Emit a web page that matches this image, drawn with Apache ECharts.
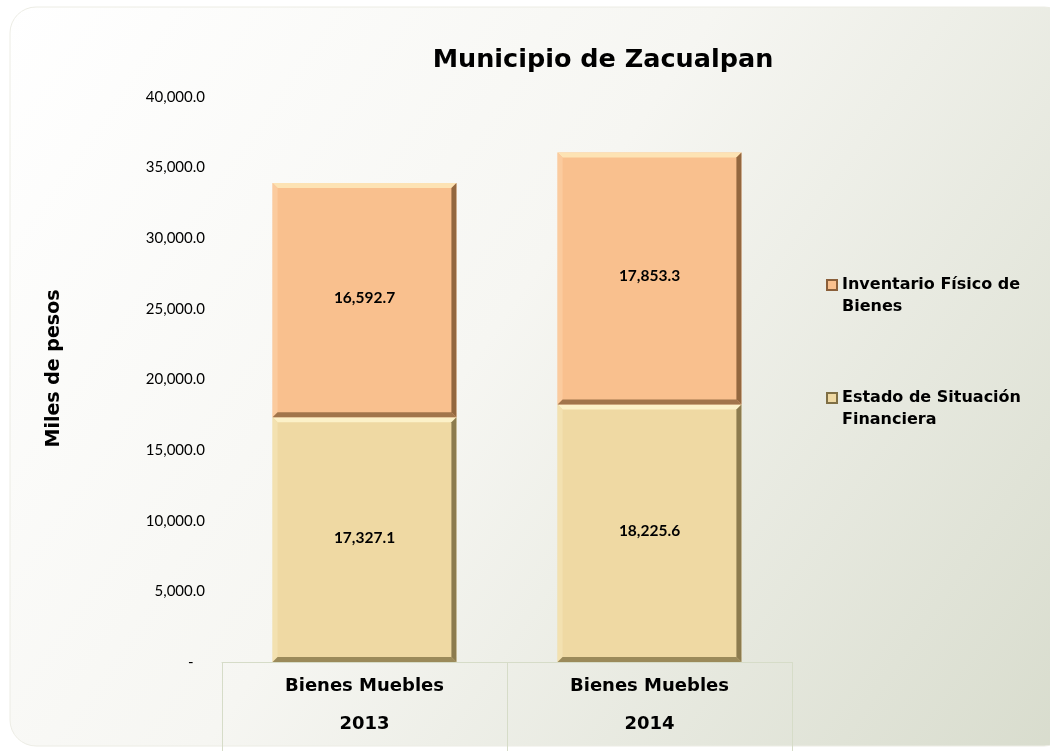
<!DOCTYPE html>
<html>
<head>
<meta charset="utf-8">
<title>Municipio de Zacualpan</title>
<script src="https://cdn.jsdelivr.net/npm/echarts@6/dist/echarts.min.js"></script>
<style>
  html, body { margin: 0; padding: 0; background: #fff; }
  #chart { width: 1050px; height: 751px; }
</style>
</head>
<body>
<div id="chart"></div>
<script>
// datos
var years = ['2013', '2014']
var categoryName = 'Bienes Muebles'
var estadoValues = [17327.1, 18225.6] // Estado de Situación Financiera
var inventarioValues = [16592.7, 17853.3] // Inventario Físico de Bienes
var yTicks = [0, 5000, 10000, 15000, 20000, 25000, 30000, 35000, 40000]

var seriesNames = ['Estado de Situación Financiera', 'Inventario Físico de Bienes']
// la primera línea vacía deja el icono a la altura de la primera línea del texto
var legendLines = {
  'Estado de Situación Financiera': ' \nEstado de Situación\nFinanciera',
  'Inventario Físico de Bienes': ' \nInventario Físico de\nBienes'
}

var boldFont = 'DejaVu Sans'

function fmt (v) {
  return v.toLocaleString('en-US', { minimumFractionDigits: 1, maximumFractionDigits: 1 })
}

// barra con bisel (estilo Excel)
function bevelBar (values, bases, fill, light, side, dark) {
  return function (params, api) {
    var i = params.dataIndex
    var base = bases[i]
    var p0 = api.coord([i, base])
    var p1 = api.coord([i, base + values[i]])
    var w = api.size([1, 0])[0] * 0.645
    var x = p0[0] - w / 2
    var y = p1[1]
    var h = p0[1] - p1[1]
    var b = 5
    return {
      type: 'group',
      children: [
        { type: 'rect', shape: { x: x, y: y, width: w, height: h }, style: { fill: fill } },
        { type: 'polygon', shape: { points: [[x, y], [x + w, y], [x + w - b, y + b], [x + b, y + b]] }, style: { fill: light } },
        { type: 'polygon', shape: { points: [[x, y], [x + b, y + b], [x + b, y + h - b], [x, y + h]] }, style: { fill: side } },
        { type: 'polygon', shape: { points: [[x + w, y], [x + w, y + h], [x + w - b, y + h - b], [x + w - b, y + b]] }, style: { fill: dark } },
        { type: 'polygon', shape: { points: [[x, y + h], [x + w, y + h], [x + w - b, y + h - b], [x + b, y + h - b]] }, style: { fill: dark, opacity: 0.85 } },
        {
          type: 'text',
          style: {
            text: fmt(values[i]),
            x: p0[0],
            y: y + h / 2 - 2,
            align: 'center',
            verticalAlign: 'middle',
            fill: '#000',
            fontFamily: 'Lato',
            fontWeight: 'bold',
            fontSize: 15.5
          }
        }
      ]
    }
  }
}

var zeros = years.map(function () { return 0 })

var option = {
  animation: false,
  graphic: [{
    type: 'rect',
    z: -10,
    shape: { x: 10, y: 7, width: 1060, height: 739, r: 26 },
    style: {
      fill: new echarts.graphic.LinearGradient(0, 0, 1, 1, [
        { offset: 0, color: '#ffffff' },
        { offset: 0.45, color: '#f6f6f2' },
        { offset: 1, color: '#d8dccd' }
      ]),
      stroke: '#ecece4',
      lineWidth: 1
    }
  }],
  title: {
    text: 'Municipio de Zacualpan',
    left: 598,
    top: 42,
    textAlign: 'center',
    textStyle: {
      fontFamily: boldFont,
      fontWeight: 'bold',
      fontSize: 25.5,
      color: '#000'
    }
  },
  legend: {
    orient: 'vertical',
    left: 826,
    top: 252,
    padding: 0,
    itemGap: 47,
    itemWidth: 10,
    itemHeight: 10,
    icon: 'rect',
    data: ['Inventario Físico de Bienes', 'Estado de Situación Financiera'],
    formatter: function (name) { return legendLines[name] },
    textStyle: {
      fontFamily: boldFont,
      fontWeight: 'bold',
      fontSize: 16,
      lineHeight: 22,
      color: '#000'
    }
  },
  grid: { left: 222, right: 258, top: 97, bottom: 89 },
  xAxis: {
    type: 'category',
    data: years,
    axisLine: { show: true, lineStyle: { color: '#d6dcc8' } },
    axisTick: { show: true, length: 90, lineStyle: { color: '#d6dcc8' } },
    axisLabel: {
      margin: 5,
      lineHeight: 38,
      fontFamily: boldFont,
      fontWeight: 'bold',
      fontSize: 18,
      color: '#000',
      formatter: function (v) { return categoryName + '\n' + v }
    }
  },
  yAxis: {
    type: 'value',
    min: yTicks[0],
    max: yTicks[yTicks.length - 1],
    interval: 5000,
    name: 'Miles de pesos',
    nameLocation: 'middle',
    nameGap: 158,
    nameTextStyle: {
      fontFamily: boldFont,
      fontWeight: 'bold',
      fontSize: 19,
      color: '#000',
      padding: [0, 0, 0, 22]
    },
    axisLine: { show: false },
    axisTick: { show: false },
    splitLine: { show: false },
    axisLabel: {
      margin: 17,
      fontFamily: 'Lato',
      fontSize: 15,
      color: '#000',
      formatter: function (v) { return v === 0 ? '-   ' : fmt(v) }
    }
  },
  series: [
    {
      name: seriesNames[0],
      type: 'custom',
      itemStyle: { color: '#efd9a3', borderColor: '#7f6f45', borderWidth: 1 },
      encode: { x: 0, y: 1 },
      data: estadoValues.map(function (v, i) { return [i, v] }),
      renderItem: bevelBar(estadoValues, zeros, '#efd9a3', '#fcf1c8', '#f3e1b0', '#8c7b4e')
    },
    {
      name: seriesNames[1],
      type: 'custom',
      itemStyle: { color: '#f9c08e', borderColor: '#8a5f3a', borderWidth: 1 },
      encode: { x: 0, y: 1 },
      data: inventarioValues.map(function (v, i) { return [i, v] }),
      renderItem: bevelBar(inventarioValues, estadoValues, '#f9c08e', '#fde3b4', '#fbcb9e', '#93673f')
    }
  ]
}

var chart = echarts.init(document.getElementById('chart'))
chart.setOption(option)
</script>
</body>
</html>
